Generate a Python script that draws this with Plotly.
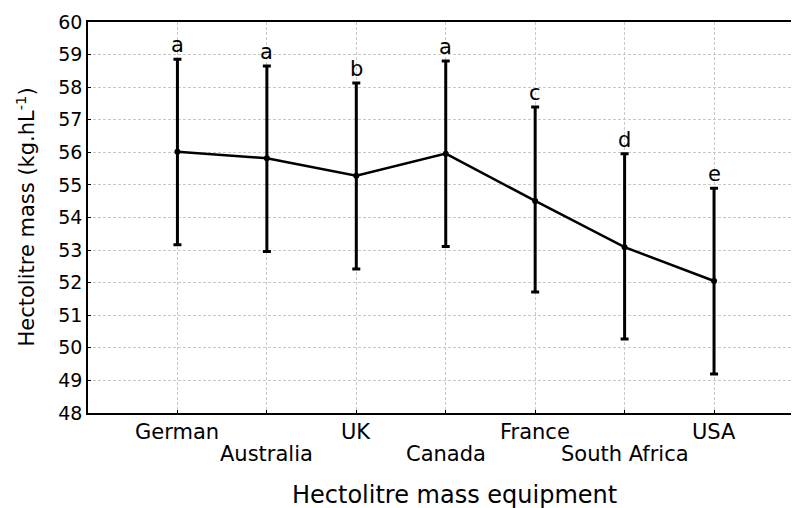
import plotly.graph_objects as go

categories = ["German", "Australia", "UK", "Canada", "France", "South Africa", "USA"]
mean = [56.02, 55.82, 55.28, 55.96, 54.51, 53.09, 52.05]
upper = [58.86, 58.65, 58.13, 58.80, 57.39, 55.96, 54.90]
lower = [53.16, 52.96, 52.42, 53.11, 51.71, 50.27, 49.20]
letters = ["a", "a", "b", "a", "c", "d", "e"]
y_ticks = list(range(48, 61))

xpos = list(range(len(categories)))
FONT = "DejaVu Sans"

fig = go.Figure()
fig.add_trace(go.Scatter(
    x=xpos, y=mean, mode="lines+markers",
    line=dict(color="black", width=2.5),
    marker=dict(color="black", size=6),
    error_y=dict(type="data", symmetric=False,
                 array=[u - m for u, m in zip(upper, mean)],
                 arrayminus=[m - l for m, l in zip(mean, lower)],
                 color="black", thickness=3, width=4),
    showlegend=False,
))

annotations = []
for i, (lab, u) in enumerate(zip(letters, upper)):
    annotations.append(dict(x=i, y=u, xref="x", yref="y", text=lab, showarrow=False,
                            yanchor="middle", yshift=14,
                            font=dict(family=FONT, size=21, color="black")))
for i, cat in enumerate(categories):
    shift = -19 if i % 2 == 0 else -41
    annotations.append(dict(x=i, y=0, xref="x", yref="paper", text=cat, showarrow=False,
                            yanchor="middle", yshift=shift,
                            font=dict(family=FONT, size=21, color="black")))
annotations.append(dict(x=0.515, y=0, xref="paper", yref="paper",
                        text="Hectolitre mass equipment", showarrow=False,
                        yanchor="middle", yshift=-82,
                        font=dict(family=FONT, size=24, color="black")))
annotations.append(dict(x=0, y=0.5, xref="paper", yref="paper",
                        text="Hectolitre mass (kg.hL<sup>-1</sup>)", showarrow=False,
                        xanchor="center", yanchor="middle", xshift=-63, textangle=-90,
                        font=dict(family=FONT, size=21, color="black")))

# page body has an 8px default margin, so the figure is sized to fit inside it
fig.update_layout(
    width=791, height=500,
    margin=dict(l=80, r=0, t=14, b=95, autoexpand=False),
    paper_bgcolor="white", plot_bgcolor="white",
    annotations=annotations,
    xaxis=dict(range=[-1, 6.95], tickvals=xpos, ticktext=[""] * len(xpos),
               showgrid=True, gridcolor="#c8c8c8", griddash="3px,2px", gridwidth=1,
               showline=True, linecolor="black", linewidth=1.5, mirror=True,
               ticks="inside", ticklen=3, tickcolor="black",
               zeroline=False, automargin=False),
    yaxis=dict(range=[48, 60], tickvals=y_ticks,
               showgrid=True, gridcolor="#c8c8c8", griddash="3px,2px", gridwidth=1,
               showline=True, linecolor="black", linewidth=1.5, mirror=False,
               ticks="inside", ticklen=3, tickcolor="black",
               tickfont=dict(family=FONT, size=19, color="black"),
               zeroline=False, automargin=False),
)

fig.write_html("out.html")
